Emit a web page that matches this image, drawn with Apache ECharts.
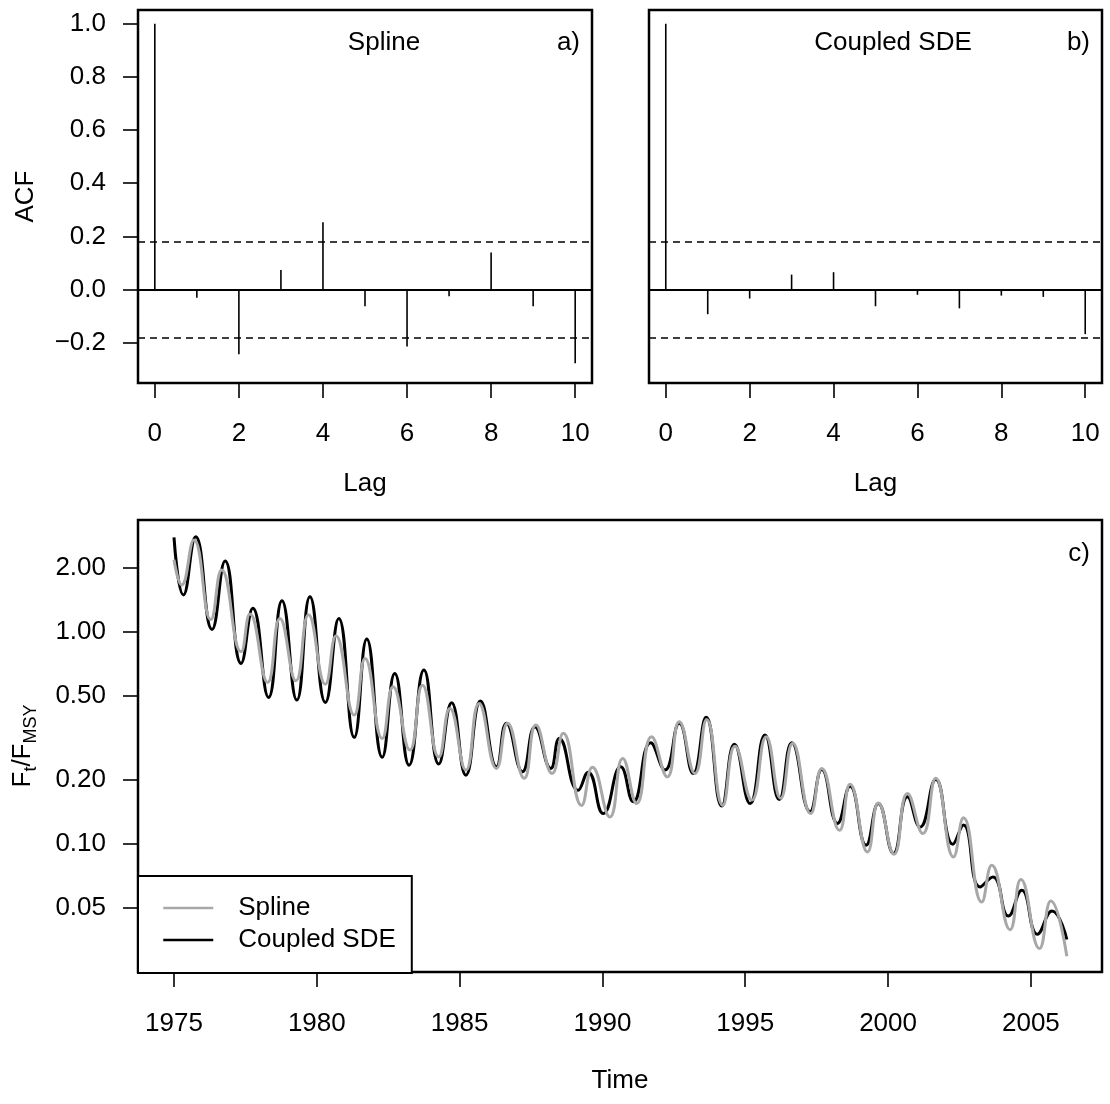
<!DOCTYPE html>
<html>
<head>
<meta charset="utf-8">
<script src="https://cdn.jsdelivr.net/npm/echarts@6/dist/echarts.min.js"></script>
<style>
html,body{margin:0;padding:0;background:#fff;}
#chart{width:1110px;height:1104px;}
</style>
</head>
<body>
<div id="chart"></div>
<script>
// ---------------- data ----------------
const acfLags = [0, 1, 2, 3, 4, 5, 6, 7, 8, 9, 10];
const acfSpline = [1.0, -0.031, -0.244, 0.073, 0.253, -0.063, -0.215, -0.025, 0.139, -0.063, -0.278];
const acfSDE = [1.0, -0.093, -0.034, 0.056, 0.065, -0.063, -0.020, -0.071, -0.023, -0.028, -0.168];
const acfCI = 0.178;
const acfYTicks = [-0.2, 0, 0.2, 0.4, 0.6, 0.8, 1.0];
const lagTicks = [0, 2, 4, 6, 8, 10];
const timeTicks = [1975, 1980, 1985, 1990, 1995, 2000, 2005];
const fTicks = [0.05, 0.1, 0.2, 0.5, 1, 2];

// Coupled SDE (black) : turning points
const sdeTime = [1975.00, 1975.33, 1975.76, 1976.33, 1976.79, 1977.35, 1977.76, 1978.31, 1978.78, 1979.30,
  1979.76, 1980.30, 1980.77, 1981.31, 1981.75, 1982.29, 1982.73, 1983.23, 1983.75, 1984.27,
  1984.72, 1985.22, 1985.73, 1986.29, 1986.64, 1987.20, 1987.64, 1988.19, 1988.49, 1989.15,
  1989.50, 1990.03, 1990.64, 1991.08, 1991.69, 1992.19, 1992.69, 1993.18, 1993.63, 1994.18,
  1994.62, 1995.17, 1995.69, 1996.19, 1996.63, 1997.27, 1997.68, 1998.23, 1998.67, 1999.23,
  1999.66, 2000.19, 2000.68, 2001.12, 2001.67, 2002.27, 2002.64, 2003.22, 2003.67, 2004.21,
  2004.68, 2005.23, 2005.74, 2006.26];
const sdeF = [2.78, 1.49, 2.80, 1.025, 2.15, 0.709, 1.29, 0.490, 1.40, 0.476,
  1.46, 0.464, 1.155, 0.318, 0.923, 0.256, 0.636, 0.235, 0.659, 0.238,
  0.462, 0.211, 0.471, 0.231, 0.370, 0.219, 0.356, 0.227, 0.314, 0.179,
  0.218, 0.139, 0.231, 0.158, 0.300, 0.223, 0.370, 0.215, 0.395, 0.151,
  0.295, 0.155, 0.326, 0.162, 0.300, 0.142, 0.224, 0.125, 0.187, 0.0987,
  0.155, 0.0902, 0.167, 0.120, 0.201, 0.0998, 0.123, 0.0628, 0.0700, 0.0458,
  0.0606, 0.0376, 0.0484, 0.0355];

// Spline (grey)
const splineTime = [1975.00, 1975.27, 1975.70, 1976.29, 1976.67, 1977.35, 1977.66, 1978.28, 1978.71, 1979.27,
  1979.71, 1980.30, 1980.67, 1981.31, 1981.69, 1982.29, 1982.67, 1983.26, 1983.70, 1984.27,
  1984.66, 1985.22, 1985.68, 1986.29, 1986.68, 1987.26, 1987.67, 1988.24, 1988.63, 1989.27,
  1989.65, 1990.26, 1990.71, 1991.20, 1991.72, 1992.27, 1992.69, 1993.24, 1993.65, 1994.21,
  1994.64, 1995.23, 1995.73, 1996.24, 1996.66, 1997.29, 1997.68, 1998.30, 1998.67, 1999.28,
  1999.66, 2000.21, 2000.68, 2001.22, 2001.67, 2002.29, 2002.64, 2003.28, 2003.63, 2004.27,
  2004.65, 2005.30, 2005.70, 2006.26];
const splineF = [2.18, 1.66, 2.70, 1.14, 1.95, 0.804, 1.21, 0.577, 1.155, 0.587,
  1.20, 0.566, 0.953, 0.405, 0.748, 0.314, 0.550, 0.277, 0.560, 0.257,
  0.435, 0.223, 0.459, 0.227, 0.370, 0.204, 0.363, 0.215, 0.332, 0.152,
  0.230, 0.134, 0.253, 0.155, 0.320, 0.207, 0.376, 0.215, 0.386, 0.152,
  0.289, 0.161, 0.320, 0.164, 0.298, 0.139, 0.227, 0.116, 0.191, 0.0918,
  0.156, 0.0895, 0.173, 0.112, 0.204, 0.0869, 0.133, 0.0533, 0.0794, 0.0395,
  0.068, 0.0322, 0.0539, 0.0296];

// ---------------- chart ----------------
const FONT = '"Liberation Sans", Arial, Helvetica, sans-serif';
const FS = 26;
const GREY = '#a8a8a8';
const chart = echarts.init(document.getElementById('chart'), null, {renderer: 'canvas'});

const pairs = (xs, ys) => xs.map((x, i) => [x, ys[i]]);
const noLine = {show: false, onZero: false};
const tickStyle = (vals) => ({show: true, inside: false, length: 15, customValues: vals, lineStyle: {color: '#000', width: 1.6}});
const labStyle = (vals, margin, fmt) => ({show: true, customValues: vals, margin: margin, color: '#000', fontSize: FS, fontFamily: FONT, formatter: fmt});
const nameStyle = {color: '#000', fontSize: FS, fontFamily: FONT};
const acfFmt = v => { const s = Number(v).toFixed(1); return s.charAt(0) === '-' ? '\u2212' + s.slice(1) : s; };

function acfMarkLines() {
  return {
    silent: true, symbol: ['none', 'none'], label: {show: false}, animation: false,
    data: [
      {yAxis: 0, lineStyle: {color: '#000', type: 'solid', width: 2}},
      {yAxis: acfCI, lineStyle: {color: '#000', type: [7, 5], width: 1.6}},
      {yAxis: -acfCI, lineStyle: {color: '#000', type: [7, 5], width: 1.6}}
    ]
  };
}

const gridBase = {show: true, borderColor: '#000', borderWidth: 2.5, backgroundColor: 'transparent', containLabel: false, outerBoundsMode: 'none'};

const option = {
  animation: false,
  backgroundColor: '#fff',
  grid: [
    Object.assign({left: 138, top: 10, width: 454, height: 373}, gridBase),
    Object.assign({left: 649, top: 10, width: 453, height: 373}, gridBase),
    Object.assign({left: 138, top: 520, width: 964, height: 452}, gridBase)
  ],
  xAxis: [
    {gridIndex: 0, type: 'value', min: -0.4, max: 10.4, axisLine: noLine, splitLine: {show: false},
      axisTick: tickStyle(lagTicks), axisLabel: labStyle(lagTicks, 38, v => String(v)),
      name: 'Lag', nameLocation: 'middle', nameGap: 88, nameTextStyle: nameStyle},
    {gridIndex: 1, type: 'value', min: -0.4, max: 10.4, axisLine: noLine, splitLine: {show: false},
      axisTick: tickStyle(lagTicks), axisLabel: labStyle(lagTicks, 38, v => String(v)),
      name: 'Lag', nameLocation: 'middle', nameGap: 88, nameTextStyle: nameStyle},
    {gridIndex: 2, type: 'value', min: 1973.74, max: 2007.49, axisLine: noLine, splitLine: {show: false},
      axisTick: tickStyle(timeTicks), axisLabel: labStyle(timeTicks, 39, v => String(Math.round(v))),
      name: 'Time', nameLocation: 'middle', nameGap: 96, nameTextStyle: nameStyle}
  ],
  yAxis: [
    {gridIndex: 0, type: 'value', min: -0.352, max: 1.052, axisLine: noLine, splitLine: {show: false},
      axisTick: tickStyle(acfYTicks), axisLabel: labStyle(acfYTicks, 32, acfFmt),
      name: 'ACF', nameLocation: 'middle', nameGap: 99, nameTextStyle: nameStyle},
    {gridIndex: 1, type: 'value', min: -0.352, max: 1.052, axisLine: noLine, splitLine: {show: false},
      axisTick: {show: false}, axisLabel: {show: false}},
    {gridIndex: 2, type: 'log', logBase: 10, min: 0.02495, max: 3.357, axisLine: noLine, splitLine: {show: false},
      axisTick: tickStyle(fTicks), axisLabel: labStyle(fTicks, 32, v => Number(v).toFixed(2)),
      name: '{m|F}{s|t}{m|/F}{s|MSY}', nameLocation: 'middle', nameGap: 102,
      nameTextStyle: {color: '#000', fontSize: FS, fontFamily: FONT,
        rich: {
          m: {fontSize: FS, fontFamily: FONT, color: '#000', lineHeight: 26},
          s: {fontSize: 18, fontFamily: FONT, color: '#000', lineHeight: 18, padding: [16, 0, 0, 0]}
        }}}
  ],
  legend: {
    show: true, orient: 'vertical', left: 138, top: 876,
    padding: [17, 16, 18, 24], itemWidth: 50, itemHeight: 30, itemGap: 2,
    borderColor: '#000', borderWidth: 2, backgroundColor: '#fff', selectedMode: false,
    data: [{name: 'Spline'}, {name: 'Coupled SDE'}],
    lineStyle: {width: 2.5},
    itemStyle: {opacity: 0, borderWidth: 0},
    textStyle: {color: '#000', fontSize: FS, fontFamily: FONT, lineHeight: 30, padding: [0, 0, 0, 20]}
  },
  graphic: [
    {type: 'text', x: 384, y: 43, style: {text: 'Spline', fill: '#000', font: FS + 'px ' + FONT, align: 'center', verticalAlign: 'middle', textAlign: 'center', textVerticalAlign: 'middle'}},
    {type: 'text', x: 580, y: 43, style: {text: 'a)', fill: '#000', font: FS + 'px ' + FONT, align: 'right', verticalAlign: 'middle', textAlign: 'right', textVerticalAlign: 'middle'}},
    {type: 'text', x: 893, y: 43, style: {text: 'Coupled SDE', fill: '#000', font: FS + 'px ' + FONT, align: 'center', verticalAlign: 'middle', textAlign: 'center', textVerticalAlign: 'middle'}},
    {type: 'text', x: 1090, y: 43, style: {text: 'b)', fill: '#000', font: FS + 'px ' + FONT, align: 'right', verticalAlign: 'middle', textAlign: 'right', textVerticalAlign: 'middle'}},
    {type: 'text', x: 1090, y: 554, style: {text: 'c)', fill: '#000', font: FS + 'px ' + FONT, align: 'right', verticalAlign: 'middle', textAlign: 'right', textVerticalAlign: 'middle'}}
  ],
  series: [
    {name: 'acf-spline', type: 'bar', xAxisIndex: 0, yAxisIndex: 0, barWidth: 1.6,
      itemStyle: {color: '#000'}, data: pairs(acfLags, acfSpline), markLine: acfMarkLines(), silent: true},
    {name: 'acf-sde', type: 'bar', xAxisIndex: 1, yAxisIndex: 1, barWidth: 1.6,
      itemStyle: {color: '#000'}, data: pairs(acfLags, acfSDE), markLine: acfMarkLines(), silent: true},
    {name: 'Coupled SDE', type: 'line', xAxisIndex: 2, yAxisIndex: 2, smooth: 0.5, symbol: 'none', showSymbol: false,
      color: '#000', lineStyle: {color: '#000', width: 3}, data: pairs(sdeTime, sdeF), silent: true, clip: true},
    {name: 'Spline', type: 'line', xAxisIndex: 2, yAxisIndex: 2, smooth: 0.5, symbol: 'none', showSymbol: false,
      color: GREY, lineStyle: {color: GREY, width: 3}, data: pairs(splineTime, splineF), silent: true, clip: true}
  ]
};
chart.setOption(option);
</script>
</body>
</html>
